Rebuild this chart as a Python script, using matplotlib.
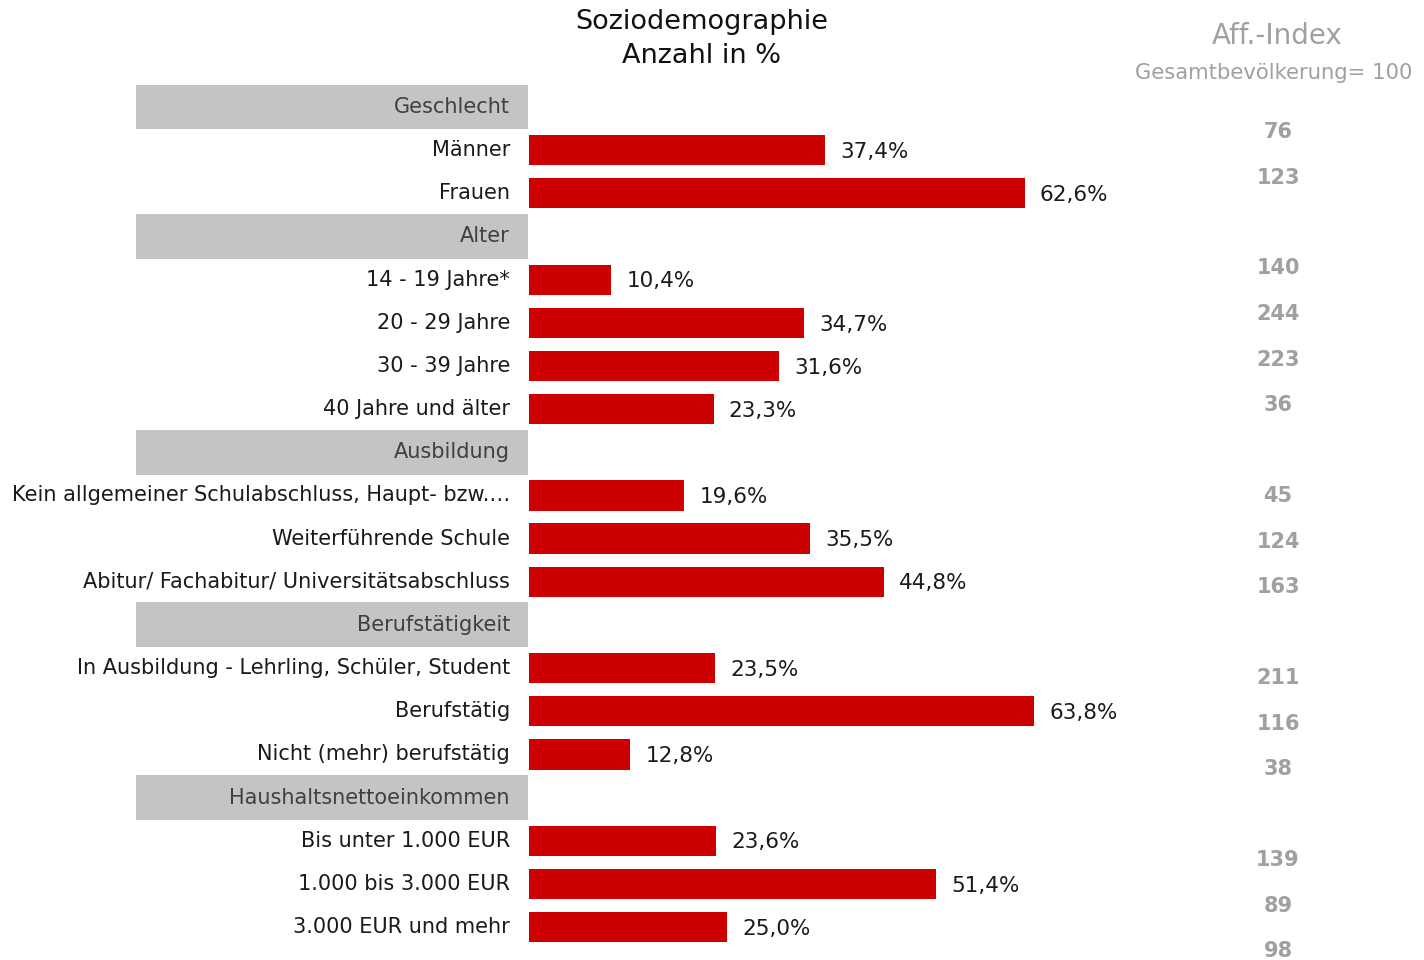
import numpy as np
import matplotlib.pyplot as plt

groups = ["Geschlecht", "Alter", "Ausbildung", "Berufstätigkeit", "Haushaltsnettoeinkommen"]
group_sizes = [2, 4, 3, 3, 3]
categories = ["Männer", "Frauen",
              "14 - 19 Jahre*", "20 - 29 Jahre", "30 - 39 Jahre", "40 Jahre und älter",
              "Kein allgemeiner Schulabschluss, Haupt- bzw.…", "Weiterführende Schule",
              "Abitur/ Fachabitur/ Universitätsabschluss",
              "In Ausbildung - Lehrling, Schüler, Student", "Berufstätig", "Nicht (mehr) berufstätig",
              "Bis unter 1.000 EUR", "1.000 bis 3.000 EUR", "3.000 EUR und mehr"]
shares = [37.4, 62.6, 10.4, 34.7, 31.6, 23.3, 19.6, 35.5, 44.8, 23.5, 63.8, 12.8, 23.6, 51.4, 25.0]
aff_index = [76, 123, 140, 244, 223, 36, 45, 124, 163, 211, 116, 38, 139, 89, 98]

# row layout: header row, then its categories
header_rows = []
cat_rows = []
r = 0
for g, n in zip(groups, group_sizes):
    header_rows.append(r)
    cat_rows.extend(range(r + 1, r + 1 + n))
    r += n + 1
nrows = r

W, H = 1424, 960
fig = plt.figure(figsize=(W / 100, H / 100), dpi=100)

left_px, zero_px, px_per = 136, 529, 7.92
right_px = 1150
pitch = 43.16
top_c = 107
ax_top = top_c - pitch / 2
ax_bot = top_c + (nrows - 1) * pitch + pitch / 2
ax = fig.add_axes([left_px / W, 1 - ax_bot / H, (right_px - left_px) / W, (ax_bot - ax_top) / H])
ax.set_xlim(-(zero_px - left_px) / px_per, (right_px - zero_px) / px_per)
ax.set_ylim(nrows - 0.5, -0.5)
ax.axis("off")

red = "#CC0000"
band = "#C4C4C4"
xmin = ax.get_xlim()[0]

ax.barh(header_rows, [-xmin - 0.1] * len(header_rows), left=xmin, height=1.04, color=band)
for y, g in zip(header_rows, groups):
    ax.text(-2.4, y, g, ha="right", va="center", fontsize=15, color="#404040")

ax.barh(cat_rows, shares, height=0.70, color=red)
for y, c, v in zip(cat_rows, categories, shares):
    ax.text(-2.4, y, c, ha="right", va="center", fontsize=15, color="#1a1a1a")
    ax.text(v + 1.9, y + 0.04, f"{v:.1f}%".replace(".", ","), ha="left", va="center",
            fontsize=15.5, color="#1a1a1a")

# affinity index column (its own vertical scale)
idx_pitch = 45.5
idx_first = 132 - idx_pitch  # row 0
i_top = idx_first - idx_pitch / 2
i_bot = idx_first + (nrows - 1) * idx_pitch + idx_pitch / 2
ax2 = fig.add_axes([1150 / W, 1 - i_bot / H, 256 / W, (i_bot - i_top) / H])
ax2.set_xlim(1150, 1406)
ax2.set_ylim(nrows - 0.5, -0.5)
ax2.axis("off")
for y, a in zip(cat_rows, aff_index):
    ax2.text(1278, y, str(a), ha="center", va="center", fontsize=15,
             fontweight="bold", color="#A0A0A0")

fig.text(702 / W, 1 - 39 / H, "Soziodemographie\nAnzahl in %", ha="center", va="center",
         fontsize=19.5, color="#111111", linespacing=1.4)
fig.text(1277 / W, 1 - 36 / H, "Aff.-Index", ha="center", va="center",
         fontsize=20, color="#A0A0A0")
fig.text(1274 / W, 1 - 73 / H, "Gesamtbevölkerung= 100", ha="center", va="center",
         fontsize=15.2, color="#A0A0A0")

fig.savefig("out.png", dpi=100)
